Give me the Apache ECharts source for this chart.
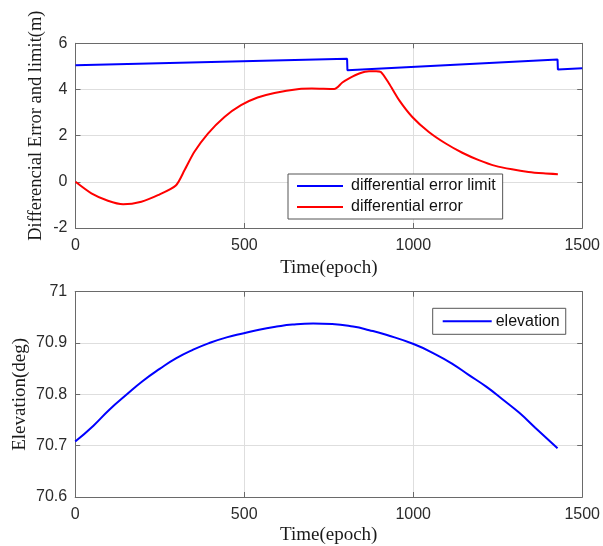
<!DOCTYPE html>
<html><head><meta charset="utf-8">
<script src="https://cdn.jsdelivr.net/npm/echarts@6/dist/echarts.min.js"></script>
<style>html,body{margin:0;padding:0;background:#fff}#c{width:603px;height:546px}</style>
</head><body><div id="c"></div>
<script>
// ---- data ----
const limitX = [0, 804, 805, 1427, 1428, 1500];
const limitY = [5.05, 5.33, 4.83, 5.30, 4.87, 4.92];

const errX = [0, 47, 96, 141, 195, 244, 297, 323, 352, 392, 441, 490, 539, 589, 662, 700, 766, 790, 810, 840, 869, 890, 904, 928, 958, 997, 1046, 1096, 1145, 1194, 1243, 1292, 1341, 1385, 1428];
const errY = [0, -0.50, -0.82, -0.97, -0.86, -0.58, -0.16, 0.51, 1.30, 2.09, 2.81, 3.32, 3.65, 3.85, 4.02, 4.04, 4.02, 4.30, 4.48, 4.69, 4.79, 4.79, 4.76, 4.26, 3.54, 2.81, 2.16, 1.66, 1.26, 0.94, 0.69, 0.54, 0.43, 0.37, 0.33];

const elevX = [0, 54, 101, 153, 200, 251, 298, 349, 397, 448, 499, 544, 596, 643, 704, 760, 822, 870, 920, 1001, 1066, 1117, 1164, 1216, 1263, 1314, 1361, 1427];
const elevY = [70.708, 70.739, 70.770, 70.800, 70.826, 70.850, 70.870, 70.887, 70.900, 70.911, 70.919, 70.926, 70.932, 70.936, 70.938, 70.937, 70.932, 70.925, 70.916, 70.898, 70.878, 70.859, 70.838, 70.815, 70.791, 70.764, 70.735, 70.695];

const xRange = [0, 1500], xStep = 500;
const y1Range = [-2, 6], y1Step = 2;
const y2Range = [70.6, 71], y2Step = 0.1;

const names = ['differential error limit', 'differential error', 'elevation'];
const xTitle = 'Time(epoch)';
const y1Title = 'Differencial Error and limit(m)';
const y2Title = 'Elevation(deg)';

// ---- chart ----
const zip = (a, b) => a.map((v, i) => [v, b[i]]);
const AX = '#6a6a6a', GRID = '#dedede', TXT = '#2b2b2b';
const SANS = 'Arial, "Liberation Sans", sans-serif';
const SERIF = '"Liberation Serif", "Times New Roman", serif';

function xAx(grid, main, gap) {
  return {
    type: 'value', gridIndex: grid, min: xRange[0], max: xRange[1], interval: xStep,
    position: main ? 'bottom' : 'top',
    name: main ? xTitle : '', nameLocation: 'middle', nameGap: gap || 0, nameMoveOverlap: false,
    nameTextStyle: { fontFamily: SERIF, fontSize: 19, color: '#1a1a1a' },
    axisLine: { show: true, onZero: false, lineStyle: { color: AX, width: 1 } },
    axisTick: { show: true, inside: true, length: 5, lineStyle: { color: AX } },
    axisLabel: { show: main, margin: 10, fontFamily: SANS, fontSize: 16, color: TXT,
                 formatter: v => String(v) },
    splitLine: { show: main, lineStyle: { color: GRID, width: 1 } }
  };
}
function yAx(grid, main, rng, step, title, gap, pad, fs) {
  return {
    type: 'value', gridIndex: grid, min: rng[0], max: rng[1], interval: step,
    position: main ? 'left' : 'right',
    name: main ? title : '', nameLocation: 'middle', nameGap: gap, nameMoveOverlap: false,
    nameTextStyle: { fontFamily: SERIF, fontSize: fs || 19, color: '#1a1a1a', padding: pad },
    axisLine: { show: true, onZero: false, lineStyle: { color: AX, width: 1 } },
    axisTick: { show: true, inside: true, length: 5, lineStyle: { color: AX } },
    axisLabel: { show: main, margin: 8, fontFamily: SANS, fontSize: 16, color: TXT },
    splitLine: { show: main, lineStyle: { color: GRID, width: 1 } }
  };
}

const chart = echarts.init(document.getElementById('c'), null, { renderer: 'canvas' });
chart.setOption({
  animation: false,
  backgroundColor: '#fff',
  grid: [
    { left: 75.5, right: 19.5, top: 43.3, height: 184.7 },
    { left: 75.2, right: 19.7, top: 291.7, height: 206.6 }
  ],
  xAxis: [xAx(0, true, 30.5), xAx(0, false), xAx(1, true, 29), xAx(1, false)],
  yAxis: [
    yAx(0, true, y1Range, y1Step, y1Title, 29.5, [0, 0, 0, 20], 18.5),
    yAx(0, false, y1Range, y1Step, '', 0, 0),
    yAx(1, true, y2Range, y2Step, y2Title, 46, 0, 19),
    yAx(1, false, y2Range, y2Step, '', 0, 0)
  ],
  legend: [
    {
      data: [names[0], names[1]], orient: 'vertical', left: 288, top: 174,
      icon: 'rect', itemWidth: 46, itemHeight: 2, itemGap: 5,
      padding: [4, 7, 4, 9], borderColor: '#555', borderWidth: 1, backgroundColor: '#fff',
      textStyle: { fontFamily: SANS, fontSize: 16, color: '#111', padding: [0, 0, 0, 3] }
    },
    {
      data: [names[2]], orient: 'vertical', left: 432.7, top: 308.3,
      icon: 'rect', itemWidth: 49, itemHeight: 2, itemGap: 5,
      padding: [5, 6, 5, 10], borderColor: '#555', borderWidth: 1, backgroundColor: '#fff',
      textStyle: { fontFamily: SANS, fontSize: 16, color: '#111', padding: [0, 0, 0, -1] }
    }
  ],
  series: [
    { name: names[0], type: 'line', xAxisIndex: 0, yAxisIndex: 0, data: zip(limitX, limitY),
      symbol: 'none', color: '#0000ff', lineStyle: { width: 2, color: '#0000ff' } },
    { name: names[1], type: 'line', xAxisIndex: 0, yAxisIndex: 0, data: zip(errX, errY),
      symbol: 'none', smooth: 0.25, color: '#ff0000', lineStyle: { width: 2, color: '#ff0000' } },
    { name: names[2], type: 'line', xAxisIndex: 2, yAxisIndex: 2, data: zip(elevX, elevY),
      symbol: 'none', smooth: 0.5, color: '#0000ff', lineStyle: { width: 2, color: '#0000ff' } }
  ]
});
</script>
</body></html>
